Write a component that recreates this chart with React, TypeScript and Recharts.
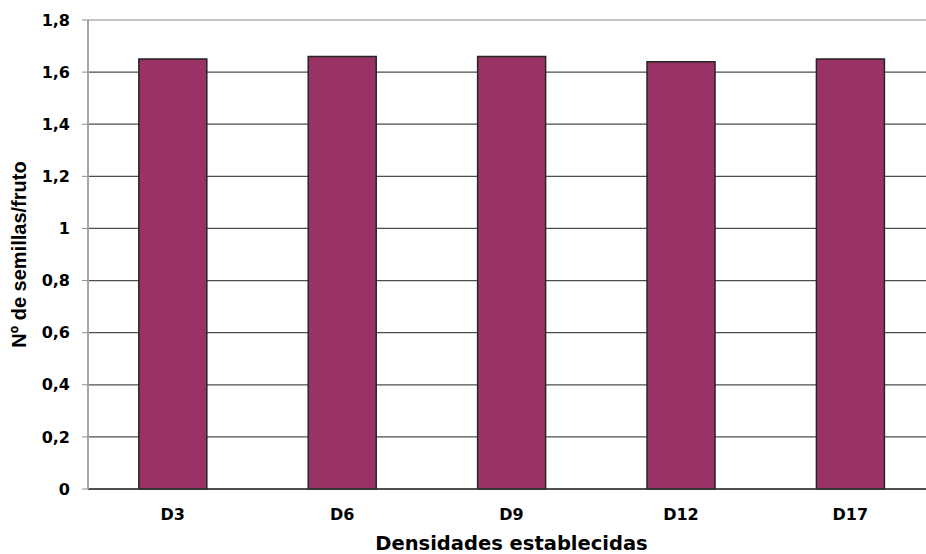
import { BarChart, Bar, XAxis, YAxis, CartesianGrid, ReferenceLine } from "recharts";

const densidades = ["D3", "D6", "D9", "D12", "D17"];
const semillasPorFruto = [1.65, 1.66, 1.66, 1.64, 1.65];
const yTicks = [0, 0.2, 0.4, 0.6, 0.8, 1, 1.2, 1.4, 1.6, 1.8];

const data = densidades.map((d, i) => ({ densidad: d, semillas: semillasPorFruto[i] }));

const FONT = "'DejaVu Sans', 'Liberation Sans', Arial, sans-serif";
const FONT_NARROW = "'Liberation Sans', Arial, sans-serif";
const fmt = (v: number) => String(v).replace(".", ",");

export default function App() {
  // plot runs a little past the right edge, so the frame clips it
  return (
    <div
      style={{
        position: "absolute",
        left: 0,
        top: 0,
        width: 926,
        height: 554,
        overflow: "hidden",
        background: "#fff",
      }}
    >
      <BarChart
        width={935}
        height={554}
        data={data}
        margin={{ top: 20, right: 0, bottom: 0, left: 0 }}
        barCategoryGap="30%"
      >
        <CartesianGrid vertical={false} stroke="#4d4d4d" strokeWidth={1.2} />
        <ReferenceLine y={1.8} stroke="#c4c4c4" strokeWidth={2} />
        <XAxis
          dataKey="densidad"
          height={65}
          axisLine={{ stroke: "#333", strokeWidth: 1.5 }}
          tickLine={false}
          tickMargin={14}
          tick={{ fill: "#000", fontSize: 16, fontWeight: "bold", fontFamily: FONT }}
          label={{
            content: ({ viewBox }: any) => (
              <text
                x={viewBox.x + viewBox.width / 2}
                y={viewBox.y + 61}
                textAnchor="middle"
                fontFamily={FONT}
                fontWeight="bold"
                fontSize={19.5}
                fill="#000"
              >
                Densidades establecidas
              </text>
            ),
          }}
        />
        <YAxis
          width={88}
          domain={[0, 1.8]}
          ticks={yTicks}
          interval={0}
          tickFormatter={fmt}
          axisLine={{ stroke: "#a6a6a6", strokeWidth: 2 }}
          tickLine={{ stroke: "#8c8c8c" }}
          tickSize={6}
          tickMargin={12}
          tick={{ fill: "#000", fontSize: 16, fontWeight: "bold", fontFamily: FONT }}
          label={{
            content: ({ viewBox }: any) => {
              const cx = 19;
              const cy = viewBox.y + viewBox.height / 2;
              return (
                <text
                  x={cx}
                  y={cy}
                  transform={`rotate(-90, ${cx}, ${cy})`}
                  textAnchor="middle"
                  dominantBaseline="central"
                  fontFamily={FONT_NARROW}
                  fontWeight="bold"
                  fontSize={20}
                  fill="#000"
                >
                  Nº de semillas/fruto
                </text>
              );
            },
          }}
        />
        <Bar dataKey="semillas" fill="#993366" stroke="#262626" strokeWidth={1.5} isAnimationActive={false} />
      </BarChart>
    </div>
  );
}
